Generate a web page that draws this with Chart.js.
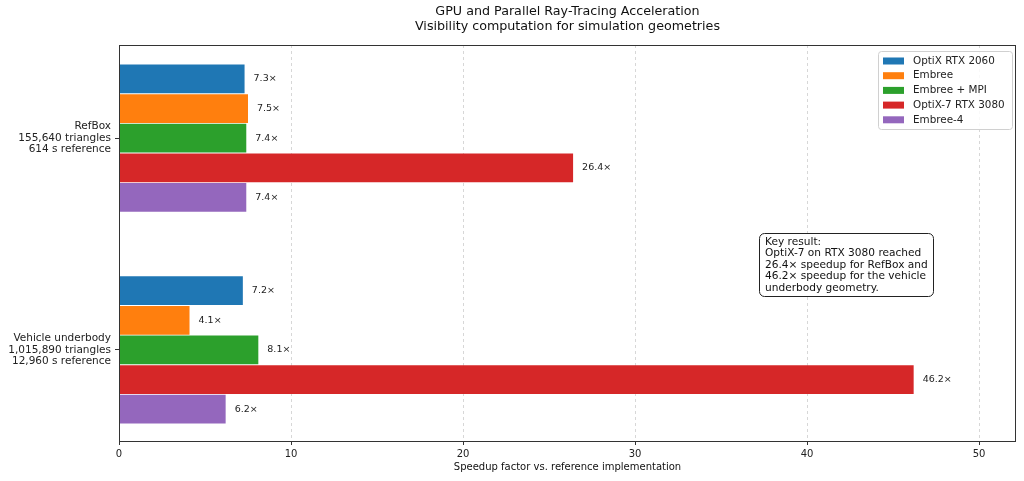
<!DOCTYPE html>
<html>
<head>
<meta charset="utf-8">
<script src="https://cdn.jsdelivr.net/npm/chart.js@4.4.1/dist/chart.umd.min.js"></script>
<style>
  html, body { margin: 0; background: #fff; }
  #wrap { width: 1024px; height: 481px; }
</style>
</head>
<body>
<div id="wrap"><canvas id="chart"></canvas></div>
<script>
// categories (multi-line tick labels)
const categories = [
  ['RefBox', '155,640 triangles', '614 s reference'],
  ['Vehicle underbody', '1,015,890 triangles', '12,960 s reference']
];
const seriesNames = ['OptiX RTX 2060', 'Embree', 'Embree + MPI', 'OptiX-7 RTX 3080', 'Embree-4'];
const optixRtx2060 = [7.3, 7.2];
const embree = [7.5, 4.1];
const embreeMpi = [7.4, 8.1];
const optix7Rtx3080 = [26.4, 46.2];
const embree4 = [7.4, 6.2];
const xTicks = [0, 10, 20, 30, 40, 50];
const noteLines = [
  'Key result:',
  'OptiX-7 on RTX 3080 reached',
  '26.4\u00d7 speedup for RefBox and',
  '46.2\u00d7 speedup for the vehicle',
  'underbody geometry.'
];
const titleLines = ['GPU and Parallel Ray-Tracing Acceleration', 'Visibility computation for simulation geometries'];

const colors = ['#1f77b4', '#ff7f0e', '#2ca02c', '#d62728', '#9467bd'];
const allSeries = [optixRtx2060, embree, embreeMpi, optix7Rtx3080, embree4];
const FONT = '"DejaVu Sans", sans-serif';

const datasets = allSeries.map((vals, i) => ({
  label: seriesNames[i],
  data: vals.map((v, j) => ({ x: v, y: j })),
  backgroundColor: colors[i],
  borderWidth: 0
}));

const extras = {
  id: 'extras',
  afterDraw(chart) {
    const ctx = chart.ctx;
    const ca = chart.chartArea;
    ctx.save();

    // value labels
    ctx.font = '9.5px ' + FONT;
    ctx.fillStyle = '#222';
    ctx.textBaseline = 'middle';
    ctx.textAlign = 'left';
    chart.data.datasets.forEach((ds, i) => {
      chart.getDatasetMeta(i).data.forEach((el, j) => {
        ctx.fillText(allSeries[i][j].toFixed(1) + '\u00d7', el.x + 9, el.y);
      });
    });

    // frame
    ctx.strokeStyle = '#333';
    ctx.lineWidth = 1;
    ctx.strokeRect(ca.left + 0.5, ca.top + 0.5, ca.right - ca.left - 1, ca.bottom - ca.top);

    // title
    ctx.fillStyle = '#111';
    ctx.font = '12.7px ' + FONT;
    ctx.textAlign = 'center';
    ctx.textBaseline = 'middle';
    const cx = (ca.left + ca.right) / 2;
    ctx.fillText(titleLines[0], cx, 12);
    ctx.fillText(titleLines[1], cx, 27);

    // legend
    const lx = ca.right - 138, ly = ca.top + 6, lw = 134, lh = 78;
    ctx.fillStyle = 'rgba(255,255,255,0.85)';
    ctx.strokeStyle = '#d0d0d0';
    ctx.beginPath();
    ctx.roundRect(lx + 0.5, ly + 0.5, lw, lh, 3);
    ctx.fill();
    ctx.stroke();
    ctx.font = '10.4px ' + FONT;
    ctx.textAlign = 'left';
    seriesNames.forEach((name, i) => {
      const y = ly + 10 + i * 14.7;
      ctx.fillStyle = colors[i];
      ctx.fillRect(lx + 5, y - 3.5, 21, 7);
      ctx.fillStyle = '#222';
      ctx.fillText(name, lx + 35, y);
    });

    // annotation box
    const bx = ca.left + 640, by = ca.top + 188, bw = 174, bh = 63;
    ctx.fillStyle = '#fff';
    ctx.strokeStyle = '#222';
    ctx.beginPath();
    ctx.roundRect(bx + 0.5, by + 0.5, bw, bh, 5);
    ctx.fill();
    ctx.stroke();
    ctx.fillStyle = '#111';
    ctx.font = '10.6px ' + FONT;
    ctx.textBaseline = 'top';
    noteLines.forEach((line, i) => ctx.fillText(line, bx + 6, by + 4 + i * 11.4));

    ctx.restore();
  }
};

new Chart(document.getElementById('chart'), {
  type: 'bar',
  data: { datasets },
  options: {
    indexAxis: 'y',
    responsive: true,
    maintainAspectRatio: false,
    animation: false,
    layout: { padding: { top: 45, right: 8, left: 0, bottom: 0 } },
    datasets: { bar: { categoryPercentage: 0.7, barPercentage: 0.97 } },
    plugins: { legend: { display: false }, tooltip: { enabled: false }, title: { display: false } },
    scales: {
      x: {
        type: 'linear',
        z: 1,
        min: 0,
        max: 52.15,
        afterBuildTicks: s => { s.ticks = xTicks.map(v => ({ value: v })); },
        afterFit: s => { s.height = 40; },
        grid: {
          color: 'rgba(176,176,176,0.5)',
          tickColor: '#333',
          tickLength: 4,
          drawTicks: true
        },
        border: { display: false, dash: [3, 3] },
        ticks: { color: '#222', font: { family: FONT, size: 10 }, padding: 3 },
        title: {
          display: true,
          text: 'Speedup factor vs. reference implementation',
          color: '#111',
          font: { family: FONT, size: 10 },
          padding: { top: 0, bottom: 8 }
        }
      },
      y: {
        type: 'linear',
        reverse: true,
        offset: false,
        min: -0.44,
        max: 1.43,
        afterBuildTicks: s => { s.ticks = categories.map((c, i) => ({ value: i })); },
        afterFit: s => { s.width = 119; },
        grid: { offset: false, drawOnChartArea: false, tickColor: '#333', tickLength: 4 },
        border: { display: false },
        ticks: {
          color: '#222',
          font: { family: FONT, size: 10.5, lineHeight: 1.1 },
          padding: 4,
          callback: v => categories[v]
        }
      }
    }
  },
  plugins: [extras]
});
</script>
</body>
</html>
